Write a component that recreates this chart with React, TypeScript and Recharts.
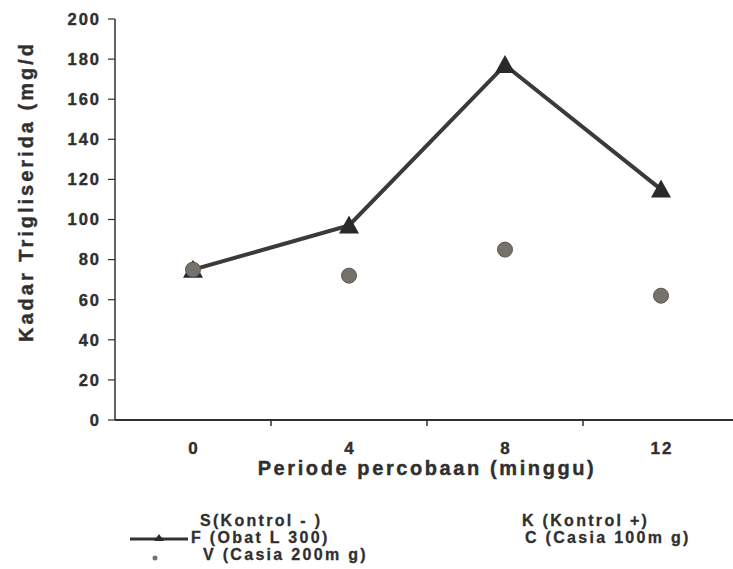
import { LineChart, Line, XAxis, YAxis } from 'recharts';

const weeks = [0, 4, 8, 12];
const obatL300 = [75, 97, 177, 115];
const casia200 = [75, 72, 85, 62];
const yTicks = [0, 20, 40, 60, 80, 100, 120, 140, 160, 180, 200];
// labels sit on the weeks, short tick marks sit between them
const xTicks = [0, 2, 4, 6, 8, 10, 12];
const legendLeft = ['S(Kontrol - )', 'F (Obat L 300)', 'V (Casia 200m g)'];
const legendRight = ['K (Kontrol +)', 'C (Casia 100m g)'];

const data = weeks.map((w, i) => ({ week: w, f: obatL300[i], v: casia200[i] }));

const INK = '#2f2f2f';
const FONT = '"Liberation Sans", Arial, sans-serif';

const Triangle = (props: any) => {
  const { cx, cy } = props;
  if (cx == null || cy == null) return null;
  return (
    <polygon
      points={`${cx},${cy - 10} ${cx + 10},${cy + 8} ${cx - 10},${cy + 8}`}
      fill="#2a2a2a"
    />
  );
};

const Dot = (props: any) => {
  const { cx, cy } = props;
  if (cx == null || cy == null) return null;
  return <circle cx={cx} cy={cy} r={7.5} fill="#77716b" stroke="#5e5853" strokeWidth={1} />;
};

const WeekTick = (props: any) => {
  const { x, y, payload } = props;
  if (payload.value % 4 === 0) {
    return (
      <text
        x={x + 1}
        y={y + 34}
        textAnchor="middle"
        fontFamily={FONT}
        fontWeight="bold"
        fontSize={17}
        letterSpacing={2}
        fill={INK}
        stroke={INK}
        strokeWidth={0.4}
      >
        {payload.value}
      </text>
    );
  }
  return <line x1={x} y1={y} x2={x} y2={y + 6} stroke={INK} strokeWidth={1.5} />;
};

const YLabel = (props: any) => {
  const { viewBox } = props;
  const cx = viewBox.x + 33;
  const cy = viewBox.y + viewBox.height / 2 - 28;
  return (
    <text
      x={cx}
      y={cy}
      transform={`rotate(-90, ${cx}, ${cy})`}
      textAnchor="middle"
      fontFamily={FONT}
      fontWeight="bold"
      fontSize={20}
      letterSpacing={3}
      fill={INK}
      stroke={INK}
      strokeWidth={0.4}
    >
      Kadar Trigliserida (mg/d
    </text>
  );
};

const textStyle: React.CSSProperties = {
  position: 'absolute',
  fontFamily: FONT,
  fontWeight: 'bold',
  fontSize: 16,
  lineHeight: '16px',
  letterSpacing: 2.3,
  color: INK,
  WebkitTextStroke: '0.3px #2f2f2f',
  whiteSpace: 'pre',
};

export default function App() {
  return (
    <div
      style={{
        position: 'absolute',
        left: 0,
        top: 0,
        width: 733,
        height: 569,
        overflow: 'hidden',
        background: '#fff',
      }}
    >
      <LineChart
        width={740}
        height={569}
        data={data}
        margin={{ top: 19, right: 1, left: 0, bottom: 84 }}
      >
        <XAxis
          dataKey="week"
          type="number"
          domain={[-2, 14]}
          ticks={xTicks}
          interval={0}
          tickSize={0}
          tickMargin={0}
          tick={<WeekTick />}
          height={65}
          axisLine={{ stroke: INK, strokeWidth: 2 }}
          label={{
            value: 'Periode percobaan (minggu)',
            position: 'insideBottom',
            offset: 10,
            style: {
              fontFamily: FONT,
              fontWeight: 'bold',
              fontSize: 20,
              letterSpacing: 2.6,
              fill: INK,
              stroke: INK,
              strokeWidth: 0.4,
            },
          }}
        />
        <YAxis
          domain={[0, 200]}
          ticks={yTicks}
          interval={0}
          width={115}
          tickSize={7}
          tickMargin={7}
          axisLine={{ stroke: INK, strokeWidth: 1.5 }}
          tickLine={{ stroke: INK, strokeWidth: 1.2 }}
          tick={{
            fontFamily: FONT,
            fontWeight: 'bold',
            fontSize: 16.5,
            letterSpacing: 2,
            fill: INK,
            stroke: INK,
            strokeWidth: 0.4,
          }}
          label={<YLabel />}
        />
        <Line
          dataKey="f"
          stroke="#3a3a3a"
          strokeWidth={4}
          dot={<Triangle />}
          activeDot={false}
          isAnimationActive={false}
        />
        <Line
          dataKey="v"
          stroke="none"
          dot={<Dot />}
          activeDot={false}
          isAnimationActive={false}
        />
      </LineChart>

      <svg
        width={733}
        height={569}
        style={{ position: 'absolute', left: 0, top: 0, pointerEvents: 'none' }}
      >
        <line x1={130} y1={539} x2={188} y2={539} stroke="#333" strokeWidth={3} />
        <polygon points="159,534 164,541 154,541" fill="#2a2a2a" />
        <circle cx={155} cy={558} r={2.5} fill="#77716b" />
      </svg>

      <div style={{ ...textStyle, left: 200, top: 513 }}>{legendLeft[0]}</div>
      <div style={{ ...textStyle, left: 191, top: 530 }}>{legendLeft[1]}</div>
      <div style={{ ...textStyle, left: 203, top: 547 }}>{legendLeft[2]}</div>
      <div style={{ ...textStyle, left: 522, top: 513 }}>{legendRight[0]}</div>
      <div style={{ ...textStyle, left: 525, top: 530 }}>{legendRight[1]}</div>
    </div>
  );
}
